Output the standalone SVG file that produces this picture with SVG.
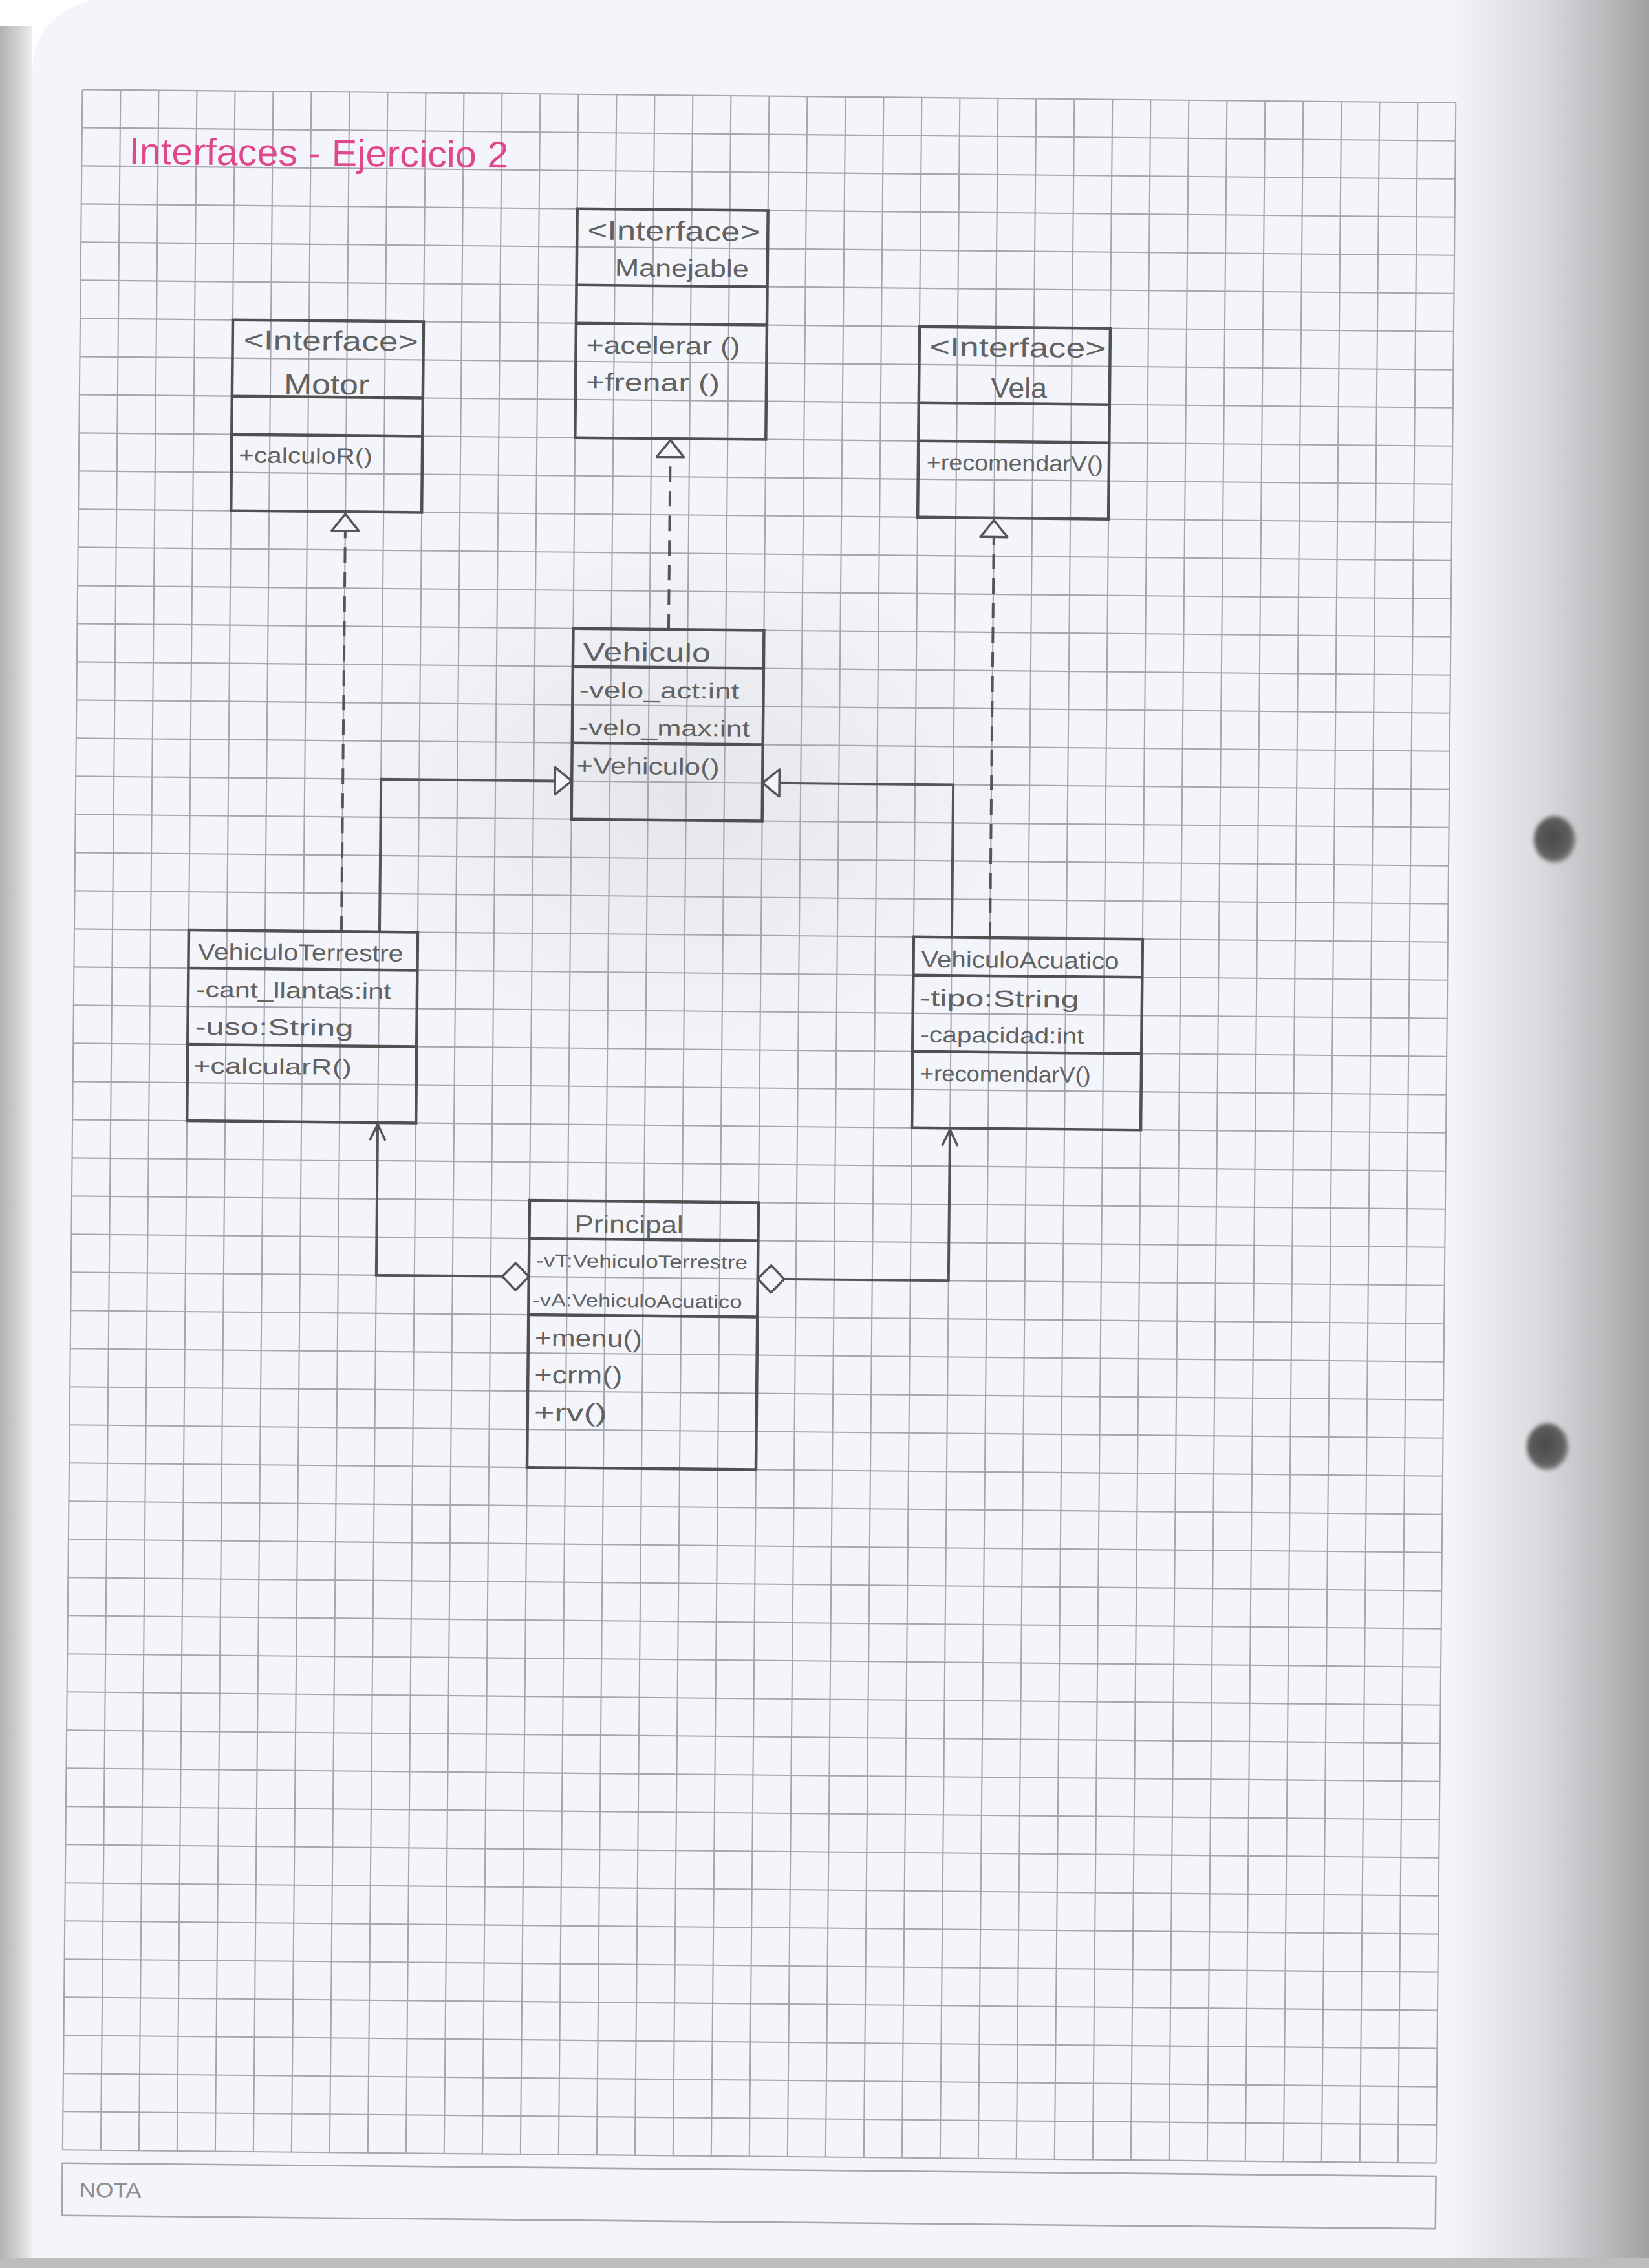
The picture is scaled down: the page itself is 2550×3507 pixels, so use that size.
<svg xmlns="http://www.w3.org/2000/svg" width="2550" height="3507" viewBox="0 0 2550 3507">
  <defs>
    <style>
      .grid { fill: none; stroke: #a6a5b0; stroke-width: 2.1; }
      .box { fill: none; stroke: #505050; stroke-width: 4.5; }
      .txt { font-family: "Liberation Sans", "DejaVu Sans", sans-serif; fill: #626262; }
      .conn { fill: none; stroke: #555555; stroke-width: 4; }
      .dash { stroke-dasharray: 24 14; }
    </style>
    <linearGradient id="rightShade" x1="2240" y1="0" x2="2550" y2="0" gradientUnits="userSpaceOnUse">
      <stop offset="0" stop-color="#9a9a9a" stop-opacity="0"/>
      <stop offset="0.45" stop-color="#9a9a9a" stop-opacity="0.28"/>
      <stop offset="1" stop-color="#8c8c8c" stop-opacity="0.8"/>
    </linearGradient>
    <linearGradient id="leftEdge" x1="0" y1="0" x2="50" y2="0" gradientUnits="userSpaceOnUse">
      <stop offset="0" stop-color="#b2b2b2"/>
      <stop offset="0.5" stop-color="#cdcdcd"/>
      <stop offset="1" stop-color="#eceef2"/>
    </linearGradient>
    <radialGradient id="holeFill" cx="0.45" cy="0.45" r="0.6">
      <stop offset="0" stop-color="#4a4a4a"/>
      <stop offset="0.7" stop-color="#5e5e5e"/>
      <stop offset="1" stop-color="#8a8a8a"/>
    </radialGradient>
    <radialGradient id="smudge" cx="0.5" cy="0.5" r="0.5">
      <stop offset="0" stop-color="#8a8a8a" stop-opacity="0.14"/>
      <stop offset="1" stop-color="#8a8a8a" stop-opacity="0"/>
    </radialGradient>
    <filter id="soft" x="-0.5" y="-0.5" width="2" height="2">
      <feGaussianBlur stdDeviation="3"/>
    </filter>
    <!-- hollow triangle head (realization / generalization) -->
    <marker id="tri" markerUnits="userSpaceOnUse" markerWidth="34" markerHeight="48" refX="28" refY="22" orient="auto" overflow="visible">
      <path d="M2 1 L28 22 L2 43 Z" fill="#f3f5fa" stroke="#555555" stroke-width="3.5" stroke-linejoin="round"/>
    </marker>
    <!-- open arrow head (navigable association) -->
    <marker id="open" markerUnits="userSpaceOnUse" markerWidth="30" markerHeight="30" refX="25" refY="13" orient="auto" overflow="visible">
      <path d="M0 1 L25 13 L0 25" fill="none" stroke="#555555" stroke-width="3.5"/>
    </marker>
    <!-- hollow diamond (aggregation) -->
    <marker id="dia" markerUnits="userSpaceOnUse" markerWidth="44" markerHeight="44" refX="0" refY="21" orient="auto" overflow="visible">
      <path d="M0 21 L20.5 0 L41 21 L20.5 42 Z" fill="#f3f5fa" stroke="#555555" stroke-width="3.5" stroke-linejoin="round"/>
    </marker>
  </defs>

  <!-- paper -->
  <rect x="0" y="0" width="2550" height="3507" fill="#f3f5fa"/>
  <rect x="0" y="40" width="50" height="3467" fill="url(#leftEdge)"/>
  <path d="M0 0 H140 Q80 20 60 60 Q50 80 50 120 V40 H0 Z" fill="#ffffff"/>
  <rect x="2240" y="0" width="310" height="3507" fill="url(#rightShade)"/>
  <rect x="0" y="3492" width="2550" height="15" fill="#bdbdbd"/>
  <ellipse cx="1060" cy="1230" rx="560" ry="420" fill="url(#smudge)"/>

  <!-- binder holes -->
  <ellipse cx="2404" cy="1298" rx="32" ry="36" fill="url(#holeFill)" filter="url(#soft)"/>
  <ellipse cx="2393" cy="2237" rx="32" ry="36" fill="url(#holeFill)" filter="url(#soft)"/>

  <!-- sheet content, slightly turned on the scanner bed -->
  <g transform="rotate(0.55 1275 1750)">
    <g id="grid">
      <path class="grid" d="M112 149.5V3335.5M171 149.5V3335.5M230 149.5V3335.5M289 149.5V3335.5M348 149.5V3335.5M407 149.5V3335.5M466 149.5V3335.5M525 149.5V3335.5M584 149.5V3335.5M643 149.5V3335.5M702 149.5V3335.5M761 149.5V3335.5M820 149.5V3335.5M879 149.5V3335.5M938 149.5V3335.5M997 149.5V3335.5M1056 149.5V3335.5M1115 149.5V3335.5M1174 149.5V3335.5M1233 149.5V3335.5M1292 149.5V3335.5M1351 149.5V3335.5M1410 149.5V3335.5M1469 149.5V3335.5M1528 149.5V3335.5M1587 149.5V3335.5M1646 149.5V3335.5M1705 149.5V3335.5M1764 149.5V3335.5M1823 149.5V3335.5M1882 149.5V3335.5M1941 149.5V3335.5M2000 149.5V3335.5M2059 149.5V3335.5M2118 149.5V3335.5M2177 149.5V3335.5M2236 149.5V3335.5"/>
      <path class="grid" d="M112 149.5H2236M112 208.5H2236M112 267.5H2236M112 326.5H2236M112 385.5H2236M112 444.5H2236M112 503.5H2236M112 562.5H2236M112 621.5H2236M112 680.5H2236M112 739.5H2236M112 798.5H2236M112 857.5H2236M112 916.5H2236M112 975.5H2236M112 1034.5H2236M112 1093.5H2236M112 1152.5H2236M112 1211.5H2236M112 1270.5H2236M112 1329.5H2236M112 1388.5H2236M112 1447.5H2236M112 1506.5H2236M112 1565.5H2236M112 1624.5H2236M112 1683.5H2236M112 1742.5H2236M112 1801.5H2236M112 1860.5H2236M112 1919.5H2236M112 1978.5H2236M112 2037.5H2236M112 2096.5H2236M112 2155.5H2236M112 2214.5H2236M112 2273.5H2236M112 2332.5H2236M112 2391.5H2236M112 2450.5H2236M112 2509.5H2236M112 2568.5H2236M112 2627.5H2236M112 2686.5H2236M112 2745.5H2236M112 2804.5H2236M112 2863.5H2236M112 2922.5H2236M112 2981.5H2236M112 3040.5H2236M112 3099.5H2236M112 3158.5H2236M112 3217.5H2236M112 3276.5H2236M112 3335.5H2236"/>
    </g>

    <g id="nota">
      <rect x="112" y="3356" width="2124" height="81" fill="none" stroke="#a6a5b0" stroke-width="2.6"/>
      <text x="138" y="3408" font-family="Liberation Sans Narrow, Liberation Sans, sans-serif" font-size="32" fill="#8d8d92" textLength="96" lengthAdjust="spacingAndGlyphs">NOTA</text>
    </g>

    <g id="title">
      <text x="185" y="264" font-family="Liberation Sans, sans-serif" font-size="58" fill="#e0488e" textLength="587" lengthAdjust="spacingAndGlyphs">Interfaces - Ejercicio 2</text>
    </g>

    <g id="connectors">
      <path class="conn dash" d="M1026.5 975.5V683" marker-end="url(#tri)"/>
      <path class="conn dash" d="M525 1447.5V802" marker-end="url(#tri)"/>
      <path class="conn dash" d="M1528 1447.5V802" marker-end="url(#tri)"/>
      <path class="conn" d="M584 1447.5V1211.5H879" marker-end="url(#tri)"/>
      <path class="conn" d="M1469 1447.5V1211.5H1174" marker-end="url(#tri)"/>
      <path class="conn" d="M820 1978.5H584V1745" marker-start="url(#dia)" marker-end="url(#open)"/>
      <path class="conn" d="M1174 1978.5H1469V1745" marker-start="url(#dia)" marker-end="url(#open)"/>
    </g>

    <g id="manejable">
      <rect class="box" x="879" y="326.5" width="295" height="354"/>
      <path class="box" d="M879 444.5H1174M879 503.5H1174"/>
      <text class="txt" x="895" y="374" font-size="42" textLength="267" lengthAdjust="spacingAndGlyphs">&lt;Interface&gt;</text>
      <text class="txt" x="938" y="430" font-size="38" textLength="207" lengthAdjust="spacingAndGlyphs">Manejable</text>
      <text class="txt" x="895" y="550" font-size="38" textLength="238" lengthAdjust="spacingAndGlyphs">+acelerar ()</text>
      <text class="txt" x="895" y="607" font-size="38" textLength="207" lengthAdjust="spacingAndGlyphs">+frenar ()</text>
    </g>

    <g id="motor">
      <rect class="box" x="348" y="503.5" width="295" height="295"/>
      <path class="box" d="M348 621.5H643M348 680.5H643"/>
      <text class="txt" x="365" y="549" font-size="42" textLength="270" lengthAdjust="spacingAndGlyphs">&lt;Interface&gt;</text>
      <text class="txt" x="428" y="617" font-size="44" textLength="132" lengthAdjust="spacingAndGlyphs">Motor</text>
      <text class="txt" x="359" y="724" font-size="34" textLength="207" lengthAdjust="spacingAndGlyphs">+calculoR()</text>
    </g>

    <g id="vela">
      <rect class="box" x="1410" y="503.5" width="295" height="295"/>
      <path class="box" d="M1410 621.5H1705M1410 680.5H1705"/>
      <text class="txt" x="1426" y="549" font-size="42" textLength="272" lengthAdjust="spacingAndGlyphs">&lt;Interface&gt;</text>
      <text class="txt" x="1521" y="612" font-size="44" textLength="87" lengthAdjust="spacingAndGlyphs">Vela</text>
      <text class="txt" x="1423" y="725" font-size="34" textLength="273" lengthAdjust="spacingAndGlyphs">+recomendarV()</text>
    </g>

    <g id="vehiculo">
      <rect class="box" x="879" y="975.5" width="295" height="295"/>
      <path class="box" d="M879 1034.5H1174M879 1152.5H1174"/>
      <text class="txt" x="894" y="1025" font-size="40" textLength="198" lengthAdjust="spacingAndGlyphs">Vehiculo</text>
      <text class="txt" x="889" y="1082" font-size="34" textLength="248" lengthAdjust="spacingAndGlyphs">-velo_act:int</text>
      <text class="txt" x="889" y="1140" font-size="34" textLength="265" lengthAdjust="spacingAndGlyphs">-velo_max:int</text>
      <text class="txt" x="886" y="1200" font-size="36" textLength="221" lengthAdjust="spacingAndGlyphs">+Vehiculo()</text>
    </g>

    <g id="vehiculoTerrestre">
      <rect class="box" x="289" y="1447.5" width="354" height="295"/>
      <path class="box" d="M289 1506.5H643M289 1624.5H643"/>
      <text class="txt" x="303" y="1493" font-size="36" textLength="318" lengthAdjust="spacingAndGlyphs">VehiculoTerrestre</text>
      <text class="txt" x="301" y="1551" font-size="34" textLength="302" lengthAdjust="spacingAndGlyphs">-cant_llantas:int</text>
      <text class="txt" x="300" y="1609" font-size="36" textLength="245" lengthAdjust="spacingAndGlyphs">-uso:String</text>
      <text class="txt" x="298" y="1669" font-size="34" textLength="245" lengthAdjust="spacingAndGlyphs">+calcularR()</text>
    </g>

    <g id="vehiculoAcuatico">
      <rect class="box" x="1410" y="1447.5" width="354" height="295"/>
      <path class="box" d="M1410 1506.5H1764M1410 1624.5H1764"/>
      <text class="txt" x="1422" y="1494" font-size="36" textLength="306" lengthAdjust="spacingAndGlyphs">VehiculoAcuatico</text>
      <text class="txt" x="1420" y="1554" font-size="36" textLength="247" lengthAdjust="spacingAndGlyphs">-tipo:String</text>
      <text class="txt" x="1422" y="1610" font-size="34" textLength="253" lengthAdjust="spacingAndGlyphs">-capacidad:int</text>
      <text class="txt" x="1422" y="1670" font-size="34" textLength="264" lengthAdjust="spacingAndGlyphs">+recomendarV()</text>
    </g>

    <g id="principal">
      <rect class="box" x="820" y="1860.5" width="354" height="413"/>
      <path class="box" d="M820 1919.5H1174M820 2037.5H1174"/>
      <text class="txt" x="890" y="1909" font-size="38" textLength="168" lengthAdjust="spacingAndGlyphs">Principal</text>
      <text class="txt" x="831" y="1963" font-size="28" textLength="327" lengthAdjust="spacingAndGlyphs">-vT:VehiculoTerrestre</text>
      <text class="txt" x="826" y="2024" font-size="28" textLength="324" lengthAdjust="spacingAndGlyphs">-vA:VehiculoAcuatico</text>
      <text class="txt" x="830" y="2086" font-size="38" textLength="166" lengthAdjust="spacingAndGlyphs">+menu()</text>
      <text class="txt" x="830" y="2143" font-size="38" textLength="136" lengthAdjust="spacingAndGlyphs">+crm()</text>
      <text class="txt" x="830" y="2201" font-size="38" textLength="113" lengthAdjust="spacingAndGlyphs">+rv()</text>
    </g>
  </g>
</svg>
